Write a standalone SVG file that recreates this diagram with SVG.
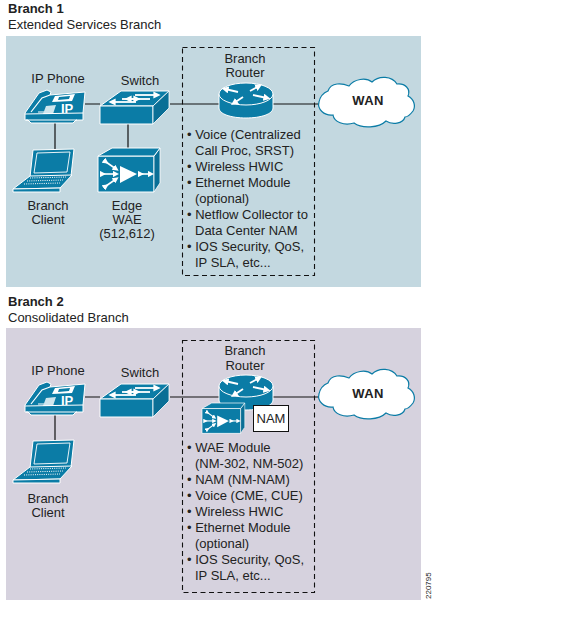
<svg xmlns="http://www.w3.org/2000/svg" width="576" height="620" viewBox="0 0 576 620">
<style>
text{font-family:"Liberation Sans",Arial,sans-serif;font-size:13px;fill:#222}
.c{text-anchor:middle}
.b{font-weight:bold}
.w{font-weight:bold;font-size:13px;letter-spacing:.4px;fill:#222}
.link{stroke:#111;stroke-width:1.2;fill:none}
.box{fill:none;stroke:#111;stroke-width:1.1;stroke-dasharray:5 3.5}
.t{fill:#0b7ca6;stroke:#fff;stroke-width:1;stroke-linejoin:round}
.d{fill:#0a6f96;stroke:#fff;stroke-width:.8;stroke-linejoin:round}
.h{fill:none;stroke:#fff;stroke-width:1.2}
.f{fill:#fff;stroke:none}
.a{fill:none;stroke:#fff;stroke-width:1.6;marker-start:url(#ah);marker-end:url(#ah)}
.a1{fill:none;stroke:#fff;stroke-width:1.8;marker-end:url(#ah)}
.cloud{fill:#fff;stroke:#0b7ca6;stroke-width:1.2}
</style>
<defs>
<marker id="ah" markerWidth="4" markerHeight="4" refX="2" refY="2" orient="auto"><path d="M0 0L4 2L0 4Z" fill="#fff"/></marker>
<g id="phone">
<path class="t" d="M25 113L39 93L47 90L51 92L50 95L85 92L83 113V120L76 120L73 123L31 123L28 120H25Z"/>
<path class="h" d="M25 114L83 113M26 120H77M31 112L42 98L50 95M38 112H44"/>
<path class="f" d="M55 96L75 94L72 101L52 102Z"/>
<path d="M59 97L70 96L69 99L58 100Z" fill="#0b7ca6"/>
<path d="M46 106L56 105L53 114L43 114Z" fill="#fff" opacity=".8"/>
<text x="61" y="113" style="font:bold 13px 'Liberation Sans',sans-serif;fill:#fff">IP</text>
</g>
<g id="switch">
<path class="t" d="M100 106L121 91L169 91L153 106Z"/>
<path class="t" d="M100 106H153V124H100Z"/>
<path class="d" d="M153 106L169 91V108L153 124Z"/>
<path class="a1" d="M122 99H137"/>
<path class="a1" d="M135 95H157"/>
<path class="a1" d="M136 102H112"/>
<path class="a1" d="M150 99H128"/>
</g>
<g id="laptop">
<path class="t" d="M33 150L74 149L71 176L30 177Z"/>
<path d="M37 153L70 152L67 172L34 173Z" fill="#0b7ca6" stroke="#fff" stroke-width=".9"/>
<path class="t" d="M30 176L72 175L60 188L13 189Z"/>
<path class="t" d="M13 189L60 188V192H13Z"/>
<path d="M30 178L66 177M27 181L63 180M24 184L60 183" stroke="#fff" stroke-width="1" stroke-dasharray="1 1.2"/>
</g>
<g id="wae">
<path class="t" d="M98 156H154V192H98Z"/>
<path class="d" d="M154 156L160 148V183L154 192Z"/>
<path class="t" d="M98 156L112 148H160L154 156Z"/>
<path class="f" d="M120 166L137 174L120 183Z"/>
<path class="a" d="M103 174H116"/>
<path class="a" d="M106 162L116 169"/>
<path class="a" d="M106 186L116 179"/>
<path class="a" d="M141 174H151"/>
</g>
<g id="router">
<path class="t" d="M219 94V108C219 114 231 118 246 118C261 118 273 114 273 108V94Z"/>
<ellipse class="t" cx="246" cy="94" rx="27" ry="11"/>
<path class="a1" d="M238 92L225 89"/>
<path class="a1" d="M243 97L234 103"/>
<path class="a1" d="M250 91L259 86"/>
<path class="a1" d="M253 95L267 98"/>
</g>
<path id="cl" class="cloud" d="M328 91C331 82 342 83 349 86C354 79 366 77 372 82C379 75 392 76 397 84C405 83 411 89 408 96C414 99 416 106 413 111C410 115 408 117 405 117C403 124 392 125 386 121C379 128 362 129 354 123C344 126 334 122 333 115C324 116 317 109 319 102C320 97 323 93 328 91Z"/>
</defs>

<rect id="panel1" x="6" y="36" width="415" height="251" fill="#c3d8e0"/>
<rect id="panel2" x="6" y="328" width="415" height="272" fill="#d6d2de"/>

<text class="b" x="8" y="13">Branch 1</text>
<text x="8" y="29">Extended Services Branch</text>
<text class="b" x="8" y="306">Branch 2</text>
<text x="8" y="322">Consolidated Branch</text>

<g id="connectors">
<path class="link" d="M85 104H100M170 104H219M273 104H320M55 123V149M128 124V148"/>
<path class="link" d="M85 397H100M170 397H219M273 397H320M55 415V441"/>
</g>
<rect class="box" x="182.500" y="47.500" width="132" height="228"/>
<rect class="box" x="182.500" y="340.500" width="132" height="252"/>

<g id="b1-phone"><use href="#phone"/><text class="c" x="58" y="83">IP Phone</text></g>
<g id="b1-switch"><use href="#switch"/><text class="c" x="140" y="85">Switch</text></g>
<g id="b1-client"><use href="#laptop"/><text class="c" x="48" y="210">Branch</text><text class="c" x="48" y="224">Client</text></g>
<g id="b1-wae"><use href="#wae"/><text class="c" x="127" y="210">Edge</text><text class="c" x="127" y="224">WAE</text><text class="c" x="127" y="238">(512,612)</text></g>
<g id="b1-router"><use href="#router"/><text class="c" x="245" y="63">Branch</text><text class="c" x="245" y="77">Router</text></g>
<g id="b1-wan"><use href="#cl"/><text class="c w" x="368" y="105">WAN</text></g>
<g id="b1-list">
<text x="187" y="139">• Voice (Centralized</text>
<text x="195" y="155">Call Proc, SRST)</text>
<text x="187" y="171">• Wireless HWIC</text>
<text x="187" y="187">• Ethernet Module</text>
<text x="195" y="203">(optional)</text>
<text x="187" y="219">• Netflow Collector to</text>
<text x="195" y="235">Data Center NAM</text>
<text x="187" y="251">• IOS Security, QoS,</text>
<text x="195" y="267">IP SLA, etc...</text>
</g>

<g id="b2-phone"><use href="#phone" y="292"/><text class="c" x="58" y="375">IP Phone</text></g>
<g id="b2-switch"><use href="#switch" y="293"/><text class="c" x="140" y="377">Switch</text></g>
<g id="b2-client"><use href="#laptop" y="291"/><text class="c" x="48" y="503">Branch</text><text class="c" x="48" y="517">Client</text></g>
<g id="b2-router"><use href="#router" y="292"/><text class="c" x="245" y="355">Branch</text><text class="c" x="245" y="370">Router</text></g>
<g id="b2-wae"><use href="#wae" transform="translate(202 403) scale(.69) translate(-98 -148)"/></g>
<g id="b2-nam"><rect x="253.500" y="405.500" width="35" height="26" fill="#fff" stroke="#111" stroke-width="1"/><text class="c" x="271" y="423">NAM</text></g>
<g id="b2-wan"><use href="#cl" y="292"/><text class="c w" x="368" y="398">WAN</text></g>
<g id="b2-list">
<text x="187" y="452">• WAE Module</text>
<text x="195" y="468">(NM-302, NM-502)</text>
<text x="187" y="484">• NAM (NM-NAM)</text>
<text x="187" y="500">• Voice (CME, CUE)</text>
<text x="187" y="516">• Wireless HWIC</text>
<text x="187" y="532">• Ethernet Module</text>
<text x="195" y="548">(optional)</text>
<text x="187" y="564">• IOS Security, QoS,</text>
<text x="195" y="580">IP SLA, etc...</text>
</g>
<text transform="translate(431 599) rotate(-90)" style="font-size:8px">220795</text>
</svg>
